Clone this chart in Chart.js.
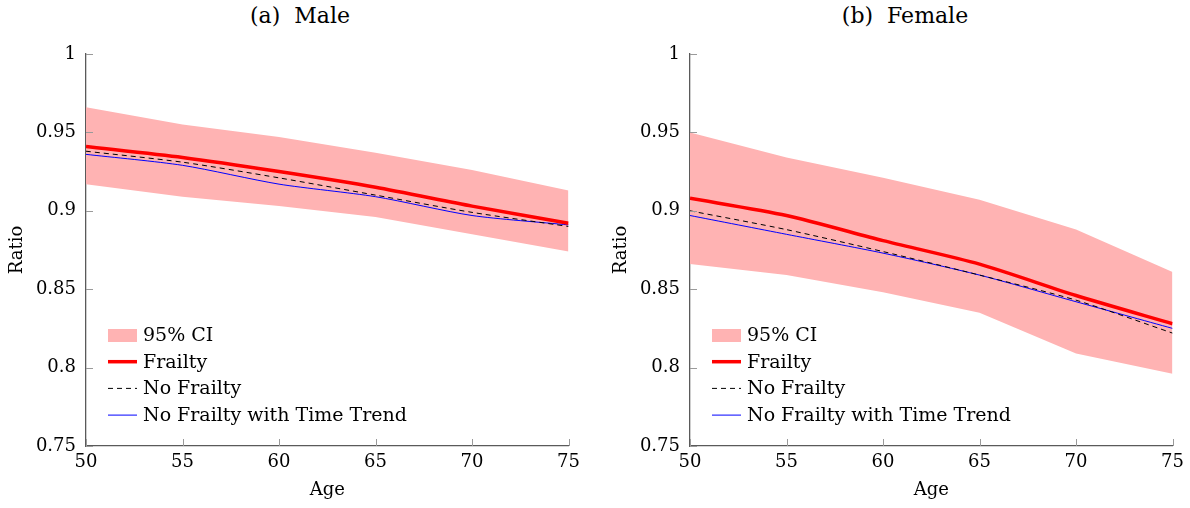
<!DOCTYPE html>
<html lang="en">
<head>
    <meta charset="UTF-8">
    <title>Ratio by Age</title>
    <script src="https://cdn.jsdelivr.net/npm/chart.js"></script>
    <style>
        body {
            margin: 0;
            padding: 0;
            background: white;
            position: relative;
            width: 1190px;
            height: 508px;
            overflow: hidden;
            font-family: 'DejaVu Serif', serif;
        }
        canvas {
            display: block;
            position: absolute;
            top: 0;
        }
        .panel-title {
            position: absolute;
            top: 1px;
            width: 600px;
            text-align: center;
            font-size: 22px;
            line-height: 30px;
            color: black;
            white-space: pre;
        }
        #maleChart { left: 0; }
        #femaleChart { left: 604px; }
        #maleTitle { left: 0; }
        #femaleTitle { left: 605px; }
    </style>
</head>
<body>
    <div class="panel-title" id="maleTitle">(a)  Male</div>
    <div class="panel-title" id="femaleTitle">(b)  Female</div>
    <canvas id="maleChart" width="586" height="508"></canvas>
    <canvas id="femaleChart" width="586" height="508"></canvas>

    <script>
        // data
        const ages = [50, 55, 60, 65, 70, 75];
        const yTicks = [0.75, 0.8, 0.85, 0.9, 0.95, 1];
        const seriesLabels = ["95% CI", "Frailty", "No Frailty", "No Frailty with Time Trend"];

        const maleCiUpper   = [0.966, 0.955, 0.947, 0.937, 0.926, 0.913];
        const maleCiLower   = [0.917, 0.909, 0.903, 0.896, 0.885, 0.874];
        const maleFrailty   = [0.941, 0.934, 0.925, 0.915, 0.903, 0.892];
        const maleNoFrailty = [0.938, 0.931, 0.921, 0.910, 0.899, 0.890];
        const maleTrend     = [0.936, 0.929, 0.917, 0.909, 0.897, 0.891];

        const femaleCiUpper   = [0.950, 0.934, 0.921, 0.907, 0.888, 0.861];
        const femaleCiLower   = [0.866, 0.859, 0.848, 0.835, 0.809, 0.796];
        const femaleFrailty   = [0.908, 0.897, 0.881, 0.866, 0.846, 0.828];
        const femaleNoFrailty = [0.900, 0.888, 0.874, 0.859, 0.843, 0.822];
        const femaleTrend     = [0.897, 0.885, 0.873, 0.859, 0.842, 0.825];

        const FONT = "'DejaVu Serif', serif";
        const PINK = "#ffb3b3";

        function toPoints(values) {
            return ages.map((a, i) => ({ x: a, y: values[i] }));
        }

        // small tick marks drawn inside the plot, like pgfplots
        const innerTicks = {
            id: "innerTicks",
            afterDraw(chart) {
                const ctx = chart.ctx;
                const area = chart.chartArea;
                ctx.save();
                ctx.strokeStyle = "#9a9a9a";
                ctx.lineWidth = 1;
                chart.scales.y.ticks.forEach((t, i) => {
                    const y = Math.round(chart.scales.y.getPixelForTick(i)) + 0.5;
                    ctx.beginPath();
                    ctx.moveTo(area.left, y);
                    ctx.lineTo(area.left + 7, y);
                    ctx.stroke();
                });
                chart.scales.x.ticks.forEach((t, i) => {
                    const x = Math.round(chart.scales.x.getPixelForTick(i)) + 0.5;
                    ctx.beginPath();
                    ctx.moveTo(x, area.bottom);
                    ctx.lineTo(x, area.bottom - 7);
                    ctx.stroke();
                });
                ctx.restore();
            }
        };

        // legend in the lower left corner of the plot
        const innerLegend = {
            id: "innerLegend",
            afterDraw(chart) {
                const ctx = chart.ctx;
                const area = chart.chartArea;
                const x0 = area.left + 22;
                const rowH = 26.7;
                let y = area.bottom - 111;
                ctx.save();
                ctx.font = "19px " + FONT;
                ctx.textBaseline = "middle";
                seriesLabels.forEach((label, i) => {
                    if (i === 0) {
                        ctx.fillStyle = PINK;
                        ctx.fillRect(x0, y - 6, 29, 13);
                    } else {
                        const ds = chart.data.datasets[i - 1];
                        ctx.strokeStyle = ds.borderColor;
                        ctx.lineWidth = ds.borderWidth;
                        ctx.setLineDash(ds.borderDash || []);
                        ctx.beginPath();
                        ctx.moveTo(x0, y);
                        ctx.lineTo(x0 + 29, y);
                        ctx.stroke();
                        ctx.setLineDash([]);
                    }
                    ctx.fillStyle = "black";
                    ctx.fillText(label, x0 + 35, y + 1);
                    y += rowH;
                });
                ctx.restore();
            }
        };

        function makePanel(id, upper, lower, frailty, noFrailty, trend) {
            const ctx = document.getElementById(id).getContext("2d");
            return new Chart(ctx, {
                type: "line",
                data: {
                    datasets: [
                        {
                            label: seriesLabels[1],
                            data: toPoints(frailty),
                            borderColor: "#ff0000",
                            borderWidth: 3.5,
                            tension: 0.25,
                            pointRadius: 0,
                            fill: false
                        },
                        {
                            label: seriesLabels[2],
                            data: toPoints(noFrailty),
                            borderColor: "#000000",
                            borderWidth: 1,
                            borderDash: [5, 4],
                            tension: 0.25,
                            pointRadius: 0,
                            fill: false
                        },
                        {
                            label: seriesLabels[3],
                            data: toPoints(trend),
                            borderColor: "#0000ff",
                            borderWidth: 1,
                            tension: 0.25,
                            pointRadius: 0,
                            fill: false
                        },
                        {
                            label: "CI upper",
                            data: toPoints(upper),
                            borderWidth: 0,
                            borderColor: PINK,
                            backgroundColor: PINK,
                            pointRadius: 0,
                            tension: 0,
                            fill: "+1"
                        },
                        {
                            label: "CI lower",
                            data: toPoints(lower),
                            borderWidth: 0,
                            borderColor: PINK,
                            pointRadius: 0,
                            tension: 0,
                            fill: false
                        }
                    ]
                },
                options: {
                    responsive: false,
                    animation: false,
                    layout: { padding: { left: 0, right: 17, top: 54, bottom: 0 } },
                    plugins: {
                        legend: { display: false },
                        tooltip: { enabled: false },
                        title: { display: false }
                    },
                    scales: {
                        x: {
                            type: "linear",
                            min: 50,
                            max: 75,
                            afterFit: (s) => { s.height = 62; },
                            afterBuildTicks: (s) => { s.ticks = ages.map(v => ({ value: v })); },
                            ticks: {
                                color: "black",
                                padding: 6,
                                font: { family: FONT, size: 18 },
                                maxRotation: 0
                            },
                            grid: { display: false, drawTicks: false },
                            border: { display: true, color: "#5a5a5a", width: 1.3 },
                            title: {
                                display: true,
                                text: "Age",
                                color: "black",
                                font: { family: FONT, size: 18 },
                                padding: { top: 0, bottom: 7 }
                            }
                        },
                        y: {
                            min: 0.75,
                            max: 1,
                            afterFit: (s) => { s.width = 86; },
                            afterBuildTicks: (s) => { s.ticks = yTicks.map(v => ({ value: v })); },
                            ticks: {
                                color: "black",
                                padding: 10,
                                font: { family: FONT, size: 18 },
                                callback: (v) => String(+Number(v).toFixed(2))
                            },
                            grid: { display: false, drawTicks: false },
                            border: { display: true, color: "#5a5a5a", width: 1.3 },
                            title: {
                                display: true,
                                text: "Ratio",
                                color: "black",
                                font: { family: FONT, size: 18 },
                                padding: { top: 7, bottom: 0 }
                            }
                        }
                    }
                },
                plugins: [innerTicks, innerLegend]
            });
        }

        makePanel("maleChart", maleCiUpper, maleCiLower, maleFrailty, maleNoFrailty, maleTrend);
        makePanel("femaleChart", femaleCiUpper, femaleCiLower, femaleFrailty, femaleNoFrailty, femaleTrend);
    </script>
</body>
</html>
